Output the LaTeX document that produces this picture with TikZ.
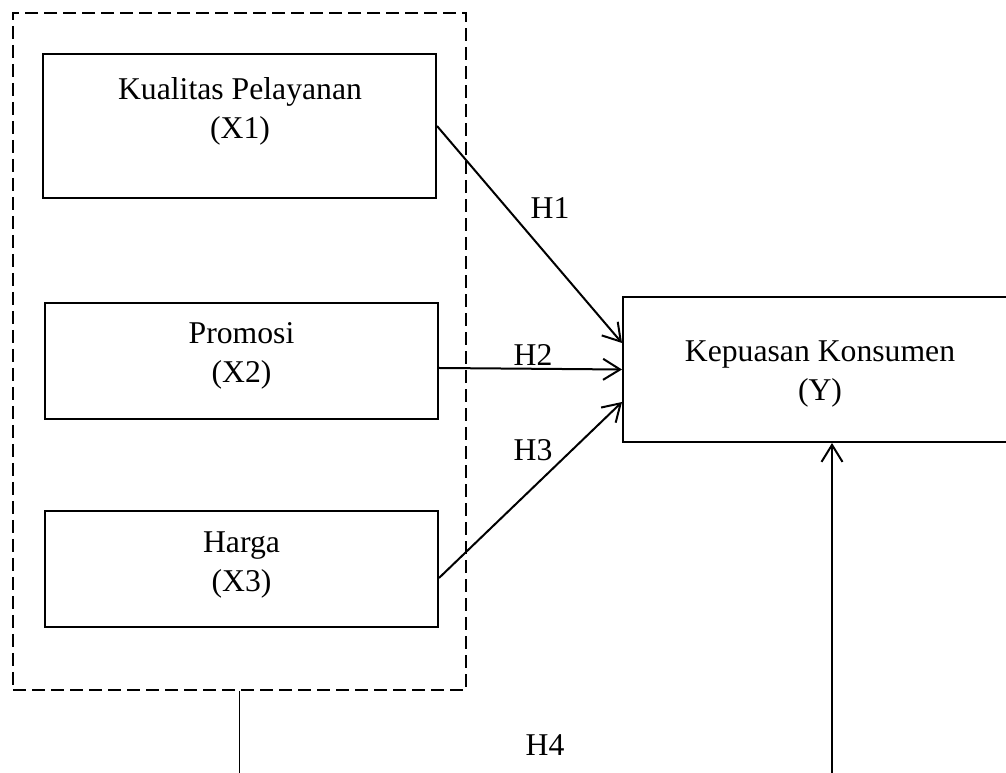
\documentclass[tikz,border=0pt]{standalone}
\usepackage{fontspec}
\setmainfont{Liberation Serif}
\usepackage{tikz}
\usetikzlibrary{arrows.meta}

\begin{document}
\begin{tikzpicture}[x=1pt,y=1pt,line width=2pt,
    box/.style={draw,rectangle,inner sep=0pt,minimum width=393pt},
    txt/.style={align=center,inner sep=0pt,font=\fontsize{31.7}{39}\selectfont},
    hyp/.style={-{Straight Barb[length=17pt,width=21pt,line width=2pt]}}]
    \useasboundingbox (0,0) rectangle (1006,773);
    \clip (0,0) rectangle (1006,773);
    \node [draw,dash pattern=on 13pt off 6pt,minimum width=453pt,minimum height=677pt,inner sep=0pt] (grp) at (239.5,421.5){};
    \node [box,minimum height=144pt] (x1) at (239.5,647){};
    \node [box,minimum height=116pt] (x2) at (241.5,412){};
    \node [box,minimum height=116pt] (x3) at (241.5,204){};
    \node [box,minimum width=437pt,minimum height=145pt] (yy) at (841.5,403.5){};
    \node [txt] (x1t) at (240,662){Kualitas Pelayanan\\(X1)};
    \node [txt] (x2t) at (241.5,417){Promosi\\(X2)};
    \node [txt] (x3t) at (241.5,208){Harga\\(X3)};
    \node [txt] (yyt) at (820,399){Kepuasan Konsumen\\(Y)};
    \draw[hyp] (x1.east)--([yshift=26.5pt]yy.west);
    \draw[hyp] ([yshift=-7pt]x2.east)--(yy.west);
    \draw[hyp] ([yshift=-9pt]x3.east)--([yshift=-32.5pt]yy.west);
    \node [txt] (h1) at (550,565){H1};
    \node [txt] (h2) at (533,418){H2};
    \node [txt] (h3) at (533,323){H3};
    \node [txt] (h4) at (545,28){H4};
    \coordinate (h4l) at (239,0);
    \coordinate (h4r) at (832,0);
    \draw[line width=1.5pt] (grp.south)--(grp.south |- h4l);
    \draw[hyp] (h4r)--(h4r |- yy.south);
\end{tikzpicture}
\end{document}
